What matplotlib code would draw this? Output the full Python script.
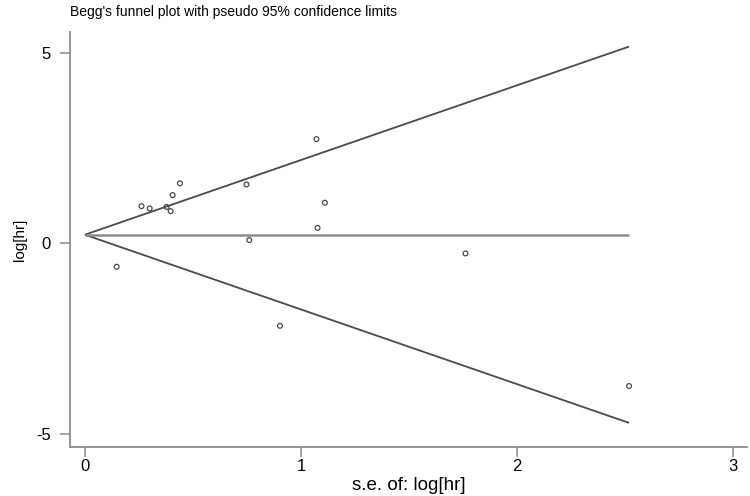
import matplotlib
matplotlib.use("Agg")
import matplotlib.pyplot as plt
import numpy as np

plt.rcParams['font.family'] = ['Liberation Sans', 'DejaVu Sans']

# study standard errors and log hazard ratios
se = [0.147, 0.262, 0.300, 0.378, 0.397, 0.406, 0.440, 0.748, 0.761,
      0.903, 1.072, 1.077, 1.111, 1.762, 2.519]
loghr = [-0.62, 0.97, 0.91, 0.95, 0.84, 1.26, 1.57, 1.54, 0.08,
         -2.17, 2.73, 0.40, 1.06, -0.27, -3.75]
pooled = 0.22

title = "Begg's funnel plot with pseudo 95% confidence limits"
xticks = [0, 1, 2, 3]
yticks = [-5, 0, 5]

fig = plt.figure(figsize=(7.5, 4.96), dpi=100)
ax = fig.add_axes([0.0933, 0.0988, 0.9027, 0.8367])

smax = max(se)
sg = np.array([0.0, smax])
ax.plot(sg, pooled + 1.96 * sg, color='#4a4a4a', lw=1.3, solid_capstyle='butt')
ax.plot(sg, pooled - 1.96 * sg, color='#4a4a4a', lw=1.3, solid_capstyle='butt')
ax.plot(sg, [pooled, pooled], color='#8c8c8c', lw=1.8, solid_capstyle='butt')
ax.scatter(se, loghr, s=12, facecolors='none', edgecolors='#4a4a4a', linewidths=0.9, zorder=3)

ax.set_xlim(-0.069, 3.065)
ax.set_ylim(-5.35, 5.54)
ax.set_xticks(xticks)
ax.set_yticks(yticks)
ax.set_xticklabels([str(t) for t in xticks])
ax.set_yticklabels([str(t) for t in yticks])

for s in ['top', 'right']:
    ax.spines[s].set_visible(False)
for s in ['left', 'bottom']:
    ax.spines[s].set_color('#8c8c8c')
    ax.spines[s].set_linewidth(1.3)
ax.tick_params(axis='both', direction='out', length=7, width=1.1, color='#8c8c8c',
               labelsize=12, labelcolor='black')
ax.tick_params(axis='y', pad=7)
ax.tick_params(axis='x', pad=1.5)

ax.set_xlabel("s.e. of: log[hr]", fontsize=13.5, va='center')
ax.xaxis.set_label_coords(0.5, -0.0916)
ax.set_ylabel("log[hr]", fontsize=11, va='center')
ax.yaxis.set_label_coords(-0.074, 0.5)
fig.text(0.0933, 0.975, title, fontsize=10, ha='left', va='center')

fig.savefig("out.png", dpi=100)
